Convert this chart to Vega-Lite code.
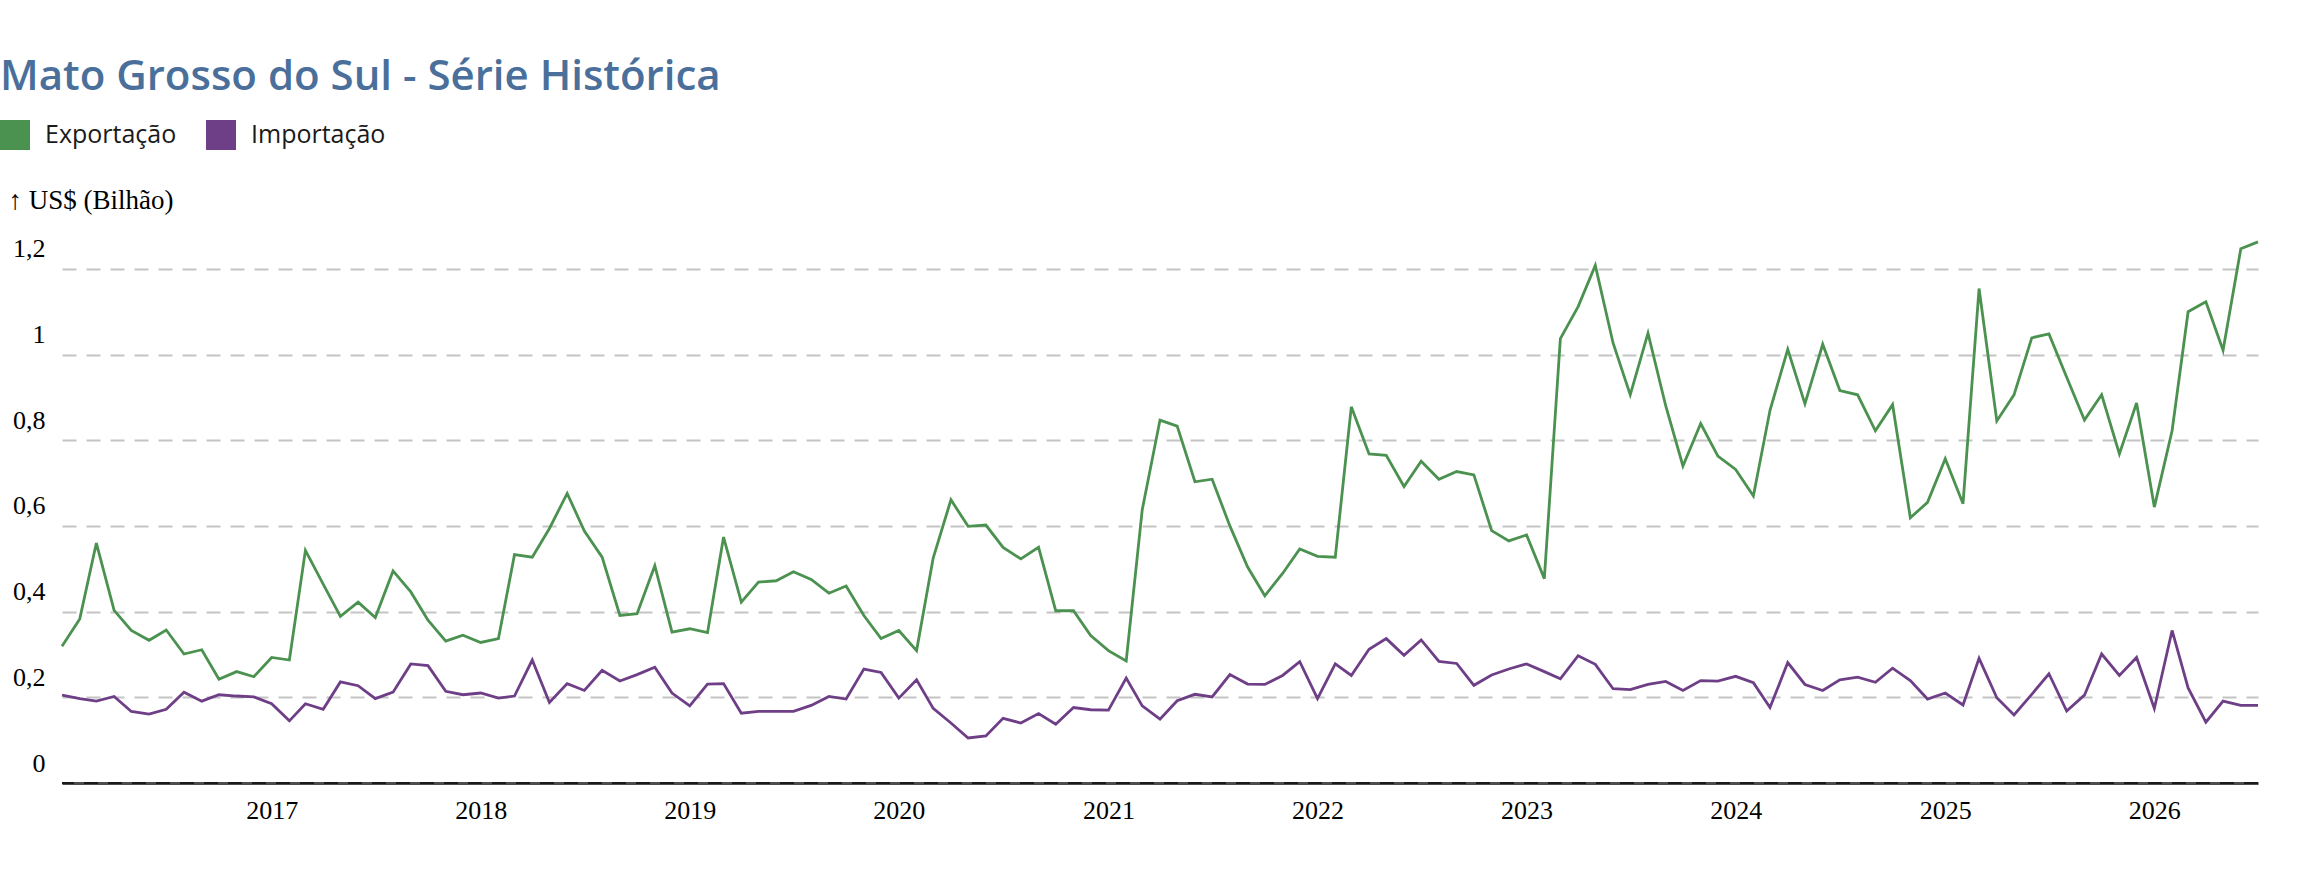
{
  "$schema": "https://vega.github.io/schema/vega-lite/v6.json",
  "width": 2196,
  "height": 542,
  "autosize": {"type": "none"},
  "padding": {"left": 62, "top": 241, "right": 42, "bottom": 111},
  "background": "white",
  "title": {
    "text": "Mato Grosso do Sul - Série Histórica",
    "anchor": "start",
    "frame": "group",
    "dx": -62,
    "offset": 21,
    "font": "Open Sans",
    "fontSize": 42,
    "fontWeight": 600,
    "color": "#4a6f9b"
  },
  "config": {"view": {"stroke": null}},
  "layer": [
    {
      "data": {
        "values": [
          {"d": "2016-01-01", "Exportação": 0.319, "Importação": 0.205},
          {"d": "2016-02-01", "Exportação": 0.383, "Importação": 0.197},
          {"d": "2016-03-01", "Exportação": 0.560, "Importação": 0.191},
          {"d": "2016-04-01", "Exportação": 0.403, "Importação": 0.202},
          {"d": "2016-05-01", "Exportação": 0.356, "Importação": 0.167},
          {"d": "2016-06-01", "Exportação": 0.333, "Importação": 0.161},
          {"d": "2016-07-01", "Exportação": 0.357, "Importação": 0.172},
          {"d": "2016-08-01", "Exportação": 0.301, "Importação": 0.212},
          {"d": "2016-09-01", "Exportação": 0.311, "Importação": 0.191},
          {"d": "2016-10-01", "Exportação": 0.242, "Importação": 0.206},
          {"d": "2016-11-01", "Exportação": 0.260, "Importação": 0.203},
          {"d": "2016-12-01", "Exportação": 0.248, "Importação": 0.201},
          {"d": "2017-01-01", "Exportação": 0.293, "Importação": 0.185},
          {"d": "2017-02-01", "Exportação": 0.287, "Importação": 0.145},
          {"d": "2017-03-01", "Exportação": 0.543, "Importação": 0.185},
          {"d": "2017-04-01", "Exportação": 0.464, "Importação": 0.172},
          {"d": "2017-05-01", "Exportação": 0.389, "Importação": 0.236},
          {"d": "2017-06-01", "Exportação": 0.422, "Importação": 0.227},
          {"d": "2017-07-01", "Exportação": 0.386, "Importação": 0.197},
          {"d": "2017-08-01", "Exportação": 0.495, "Importação": 0.212},
          {"d": "2017-09-01", "Exportação": 0.446, "Importação": 0.278},
          {"d": "2017-10-01", "Exportação": 0.380, "Importação": 0.274},
          {"d": "2017-11-01", "Exportação": 0.331, "Importação": 0.214},
          {"d": "2017-12-01", "Exportação": 0.345, "Importação": 0.206},
          {"d": "2018-01-01", "Exportação": 0.328, "Importação": 0.210},
          {"d": "2018-02-01", "Exportação": 0.337, "Importação": 0.198},
          {"d": "2018-03-01", "Exportação": 0.533, "Importação": 0.203},
          {"d": "2018-04-01", "Exportação": 0.527, "Importação": 0.287},
          {"d": "2018-05-01", "Exportação": 0.594, "Importação": 0.188},
          {"d": "2018-06-01", "Exportação": 0.676, "Importação": 0.232},
          {"d": "2018-07-01", "Exportação": 0.588, "Importação": 0.216},
          {"d": "2018-08-01", "Exportação": 0.527, "Importação": 0.263},
          {"d": "2018-09-01", "Exportação": 0.391, "Importação": 0.238},
          {"d": "2018-10-01", "Exportação": 0.395, "Importação": 0.253},
          {"d": "2018-11-01", "Exportação": 0.507, "Importação": 0.270},
          {"d": "2018-12-01", "Exportação": 0.352, "Importação": 0.210},
          {"d": "2019-01-01", "Exportação": 0.360, "Importação": 0.180},
          {"d": "2019-02-01", "Exportação": 0.351, "Importação": 0.231},
          {"d": "2019-03-01", "Exportação": 0.574, "Importação": 0.232},
          {"d": "2019-04-01", "Exportação": 0.422, "Importação": 0.163},
          {"d": "2019-05-01", "Exportação": 0.469, "Importação": 0.167},
          {"d": "2019-06-01", "Exportação": 0.472, "Importação": 0.167},
          {"d": "2019-07-01", "Exportação": 0.493, "Importação": 0.167},
          {"d": "2019-08-01", "Exportação": 0.475, "Importação": 0.181},
          {"d": "2019-09-01", "Exportação": 0.443, "Importação": 0.202},
          {"d": "2019-10-01", "Exportação": 0.460, "Importação": 0.196},
          {"d": "2019-11-01", "Exportação": 0.391, "Importação": 0.266},
          {"d": "2019-12-01", "Exportação": 0.337, "Importação": 0.258},
          {"d": "2020-01-01", "Exportação": 0.356, "Importação": 0.198},
          {"d": "2020-02-01", "Exportação": 0.309, "Importação": 0.241},
          {"d": "2020-03-01", "Exportação": 0.525, "Importação": 0.174},
          {"d": "2020-04-01", "Exportação": 0.661, "Importação": 0.140},
          {"d": "2020-05-01", "Exportação": 0.599, "Importação": 0.105},
          {"d": "2020-06-01", "Exportação": 0.602, "Importação": 0.110},
          {"d": "2020-07-01", "Exportação": 0.550, "Importação": 0.151},
          {"d": "2020-08-01", "Exportação": 0.523, "Importação": 0.140},
          {"d": "2020-09-01", "Exportação": 0.550, "Importação": 0.162},
          {"d": "2020-10-01", "Exportação": 0.402, "Importação": 0.137},
          {"d": "2020-11-01", "Exportação": 0.402, "Importação": 0.176},
          {"d": "2020-12-01", "Exportação": 0.344, "Importação": 0.171},
          {"d": "2021-01-01", "Exportação": 0.309, "Importação": 0.170},
          {"d": "2021-02-01", "Exportação": 0.285, "Importação": 0.245},
          {"d": "2021-03-01", "Exportação": 0.638, "Importação": 0.180},
          {"d": "2021-04-01", "Exportação": 0.847, "Importação": 0.149},
          {"d": "2021-05-01", "Exportação": 0.833, "Importação": 0.192},
          {"d": "2021-06-01", "Exportação": 0.703, "Importação": 0.207},
          {"d": "2021-07-01", "Exportação": 0.709, "Importação": 0.201},
          {"d": "2021-08-01", "Exportação": 0.600, "Importação": 0.253},
          {"d": "2021-09-01", "Exportação": 0.504, "Importação": 0.231},
          {"d": "2021-10-01", "Exportação": 0.437, "Importação": 0.230},
          {"d": "2021-11-01", "Exportação": 0.489, "Importação": 0.251},
          {"d": "2021-12-01", "Exportação": 0.546, "Importação": 0.283},
          {"d": "2022-01-01", "Exportação": 0.529, "Importação": 0.197},
          {"d": "2022-02-01", "Exportação": 0.527, "Importação": 0.278},
          {"d": "2022-03-01", "Exportação": 0.878, "Importação": 0.251},
          {"d": "2022-04-01", "Exportação": 0.768, "Importação": 0.312},
          {"d": "2022-05-01", "Exportação": 0.765, "Importação": 0.337},
          {"d": "2022-06-01", "Exportação": 0.692, "Importação": 0.298},
          {"d": "2022-07-01", "Exportação": 0.751, "Importação": 0.334},
          {"d": "2022-08-01", "Exportação": 0.709, "Importação": 0.284},
          {"d": "2022-09-01", "Exportação": 0.727, "Importação": 0.279},
          {"d": "2022-10-01", "Exportação": 0.719, "Importação": 0.228},
          {"d": "2022-11-01", "Exportação": 0.589, "Importação": 0.252},
          {"d": "2022-12-01", "Exportação": 0.565, "Importação": 0.266},
          {"d": "2023-01-01", "Exportação": 0.579, "Importação": 0.278},
          {"d": "2023-02-01", "Exportação": 0.477, "Importação": 0.260},
          {"d": "2023-03-01", "Exportação": 1.037, "Importação": 0.243},
          {"d": "2023-04-01", "Exportação": 1.112, "Importação": 0.297},
          {"d": "2023-05-01", "Exportação": 1.208, "Importação": 0.277},
          {"d": "2023-06-01", "Exportação": 1.027, "Importação": 0.220},
          {"d": "2023-07-01", "Exportação": 0.906, "Importação": 0.218},
          {"d": "2023-08-01", "Exportação": 1.050, "Importação": 0.230},
          {"d": "2023-09-01", "Exportação": 0.880, "Importação": 0.237},
          {"d": "2023-10-01", "Exportação": 0.740, "Importação": 0.216},
          {"d": "2023-11-01", "Exportação": 0.839, "Importação": 0.239},
          {"d": "2023-12-01", "Exportação": 0.763, "Importação": 0.238},
          {"d": "2024-01-01", "Exportação": 0.732, "Importação": 0.249},
          {"d": "2024-02-01", "Exportação": 0.670, "Importação": 0.234},
          {"d": "2024-03-01", "Exportação": 0.870, "Importação": 0.176},
          {"d": "2024-04-01", "Exportação": 1.012, "Importação": 0.281},
          {"d": "2024-05-01", "Exportação": 0.885, "Importação": 0.230},
          {"d": "2024-06-01", "Exportação": 1.024, "Importação": 0.216},
          {"d": "2024-07-01", "Exportação": 0.916, "Importação": 0.241},
          {"d": "2024-08-01", "Exportação": 0.906, "Importação": 0.247},
          {"d": "2024-09-01", "Exportação": 0.822, "Importação": 0.235},
          {"d": "2024-10-01", "Exportação": 0.883, "Importação": 0.268},
          {"d": "2024-11-01", "Exportação": 0.619, "Importação": 0.239},
          {"d": "2024-12-01", "Exportação": 0.655, "Importação": 0.196},
          {"d": "2025-01-01", "Exportação": 0.757, "Importação": 0.210},
          {"d": "2025-02-01", "Exportação": 0.652, "Importação": 0.182},
          {"d": "2025-03-01", "Exportação": 1.154, "Importação": 0.291},
          {"d": "2025-04-01", "Exportação": 0.845, "Importação": 0.199},
          {"d": "2025-05-01", "Exportação": 0.906, "Importação": 0.159},
          {"d": "2025-06-01", "Exportação": 1.039, "Importação": 0.207},
          {"d": "2025-07-01", "Exportação": 1.048, "Importação": 0.255},
          {"d": "2025-08-01", "Exportação": 0.947, "Importação": 0.168},
          {"d": "2025-09-01", "Exportação": 0.847, "Importação": 0.205},
          {"d": "2025-10-01", "Exportação": 0.906, "Importação": 0.301},
          {"d": "2025-11-01", "Exportação": 0.768, "Importação": 0.251},
          {"d": "2025-12-01", "Exportação": 0.887, "Importação": 0.293},
          {"d": "2026-01-01", "Exportação": 0.644, "Importação": 0.174},
          {"d": "2026-02-01", "Exportação": 0.822, "Importação": 0.356},
          {"d": "2026-03-01", "Exportação": 1.100, "Importação": 0.222},
          {"d": "2026-04-01", "Exportação": 1.123, "Importação": 0.142},
          {"d": "2026-05-01", "Exportação": 1.010, "Importação": 0.191},
          {"d": "2026-06-01", "Exportação": 1.247, "Importação": 0.181},
          {"d": "2026-07-01", "Exportação": 1.263, "Importação": 0.181}
        ]
      },
      "transform": [{"fold": ["Exportação", "Importação"], "as": ["s", "v"]}],
      "mark": {"type": "line", "strokeWidth": 2.8},
      "encoding": {
        "x": {
          "field": "d",
          "type": "temporal",
          "scale": {
            "type": "utc",
            "domain": [
              {"year": 2016, "month": 1, "date": 1, "utc": true},
              {"year": 2026, "month": 7, "date": 1, "utc": true}
            ]
          },
          "axis": {
            "title": null,
            "values": [
              {"year": 2017, "utc": true}, {"year": 2018, "utc": true}, {"year": 2019, "utc": true},
              {"year": 2020, "utc": true}, {"year": 2021, "utc": true}, {"year": 2022, "utc": true},
              {"year": 2023, "utc": true}, {"year": 2024, "utc": true}, {"year": 2025, "utc": true},
              {"year": 2026, "utc": true}
            ],
            "format": "%Y",
            "grid": false,
            "ticks": false,
            "tickSize": 0,
            "labelFont": "Liberation Serif",
            "labelFontSize": 26,
            "labelColor": "#000000",
            "labelPadding": 14,
            "labelFlush": false,
            "labelOverlap": false,
            "domainColor": "#4d4d4d",
            "domainWidth": 3
          }
        },
        "y": {
          "field": "v",
          "type": "quantitative",
          "scale": {"domain": [0, 1.265], "nice": false, "zero": true},
          "axis": {
            "values": [0, 0.2, 0.4, 0.6, 0.8, 1, 1.2],
            "labelExpr": "replace(format(datum.value, '.1~f'), '.', ',')",
            "labelFont": "Liberation Serif",
            "labelFontSize": 26,
            "labelColor": "#000000",
            "labelAlign": "right",
            "labelBaseline": "alphabetic",
            "labelOffset": -12,
            "labelPadding": 17,
            "labelFlush": false,
            "ticks": false,
            "tickSize": 0,
            "domain": false,
            "grid": true,
            "gridColor": "#c4c4c4",
            "gridWidth": 2,
            "gridDash": [14, 10],
            "title": "↑ US$ (Bilhão)",
            "titleAngle": 0,
            "titleX": -54,
            "titleY": -33,
            "titleAlign": "left",
            "titleBaseline": "alphabetic",
            "titleFont": "Liberation Serif",
            "titleFontSize": 27,
            "titleFontWeight": "normal",
            "titleColor": "#000000"
          }
        },
        "color": {
          "field": "s",
          "type": "nominal",
          "scale": {"domain": ["Exportação", "Importação"], "range": ["#4b9150", "#6e3f87"]},
          "legend": {
            "orient": "none",
            "legendX": -62,
            "legendY": -121,
            "direction": "horizontal",
            "title": null,
            "symbolType": "square",
            "symbolSize": 900,
            "symbolStrokeWidth": 0,
            "symbolOpacity": 1,
            "labelFont": "Open Sans",
            "labelFontSize": 25,
            "labelColor": "#1a1a1a",
            "labelOffset": 15,
            "columnPadding": 29,
            "encode": {
              "symbols": {
                "update": {
                  "fill": {"scale": "color", "field": "value"},
                  "stroke": {"value": "transparent"}
                }
              }
            }
          }
        }
      }
    },
    {
      "data": {"values": [{"z": 0}]},
      "mark": {"type": "rule", "strokeDash": [14, 10], "color": "#1a1a1a", "strokeWidth": 2},
      "encoding": {"y": {"field": "z", "type": "quantitative"}}
    }
  ]
}
